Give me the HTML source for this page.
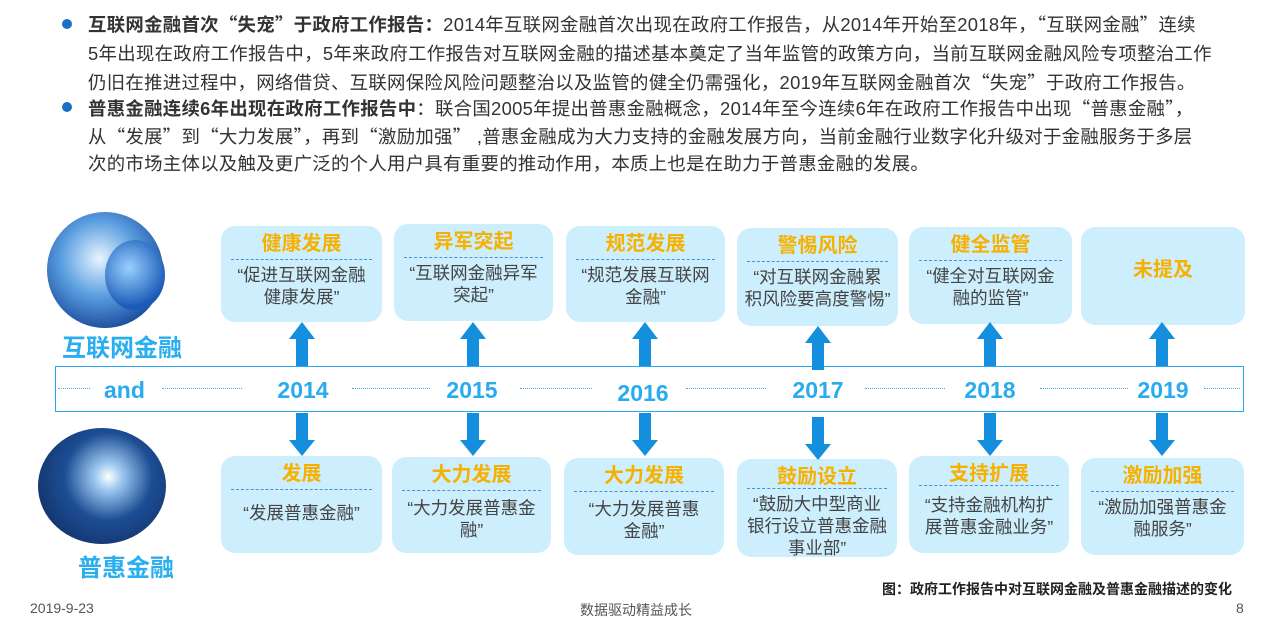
<!DOCTYPE html><html><head><meta charset="utf-8"><style>
body{margin:0;width:1280px;height:636px;position:relative;background:#fff;font-family:"Liberation Sans","Noto Sans CJK SC",sans-serif;overflow:hidden}
.l{position:absolute;left:88px;font-size:18.4px;color:#333;white-space:nowrap;line-height:28px;letter-spacing:0.3px}
.q{font-family:"Noto Sans CJK SC",sans-serif}
.dot{position:absolute;left:62px;width:10px;height:10px;border-radius:50%;background:#1a6fc4}
.box{position:absolute;background:#cdeefd;border-radius:14px;text-align:center}
.t{color:#f6b100;font-weight:bold;font-size:20px;line-height:22px;margin-top:7px}
.d{border-top:1.5px dashed #4a8fd8;margin:4px 10px 4px}
.x{color:#444;font-size:17.5px;line-height:22px;white-space:nowrap}
.yr{position:absolute;top:377px;color:#2aabef;font-weight:bold;font-size:23px;width:80px;text-align:center;margin-left:-40px}
.dl{position:absolute;top:388px;border-top:1.5px dotted #4aa8e6}
</style></head><body>
<div class="dot" style="top:19px"></div><div class="dot" style="top:102px"></div>
<div class="l" style="top:10px"><b>互联网金融首次<span class="q">“</span>失宠<span class="q">”</span>于政府工作报告：</b>2014年互联网金融首次出现在政府工作报告，从2014年开始至2018年，<span class="q">“</span>互联网金融<span class="q">”</span>连续</div>
<div class="l" style="top:40px">5年出现在政府工作报告中，5年来政府工作报告对互联网金融的描述基本奠定了当年监管的政策方向，当前互联网金融风险专项整治工作</div>
<div class="l" style="top:68px">仍旧在推进过程中，网络借贷、互联网保险风险问题整治以及监管的健全仍需强化，2019年互联网金融首次<span class="q">“</span>失宠<span class="q">”</span>于政府工作报告。</div>
<div class="l" style="top:94px"><b>普惠金融连续6年出现在政府工作报告中</b>：联合国2005年提出普惠金融概念，2014年至今连续6年在政府工作报告中出现<span class="q">“</span>普惠金融<span class="q">”</span>，</div>
<div class="l" style="top:122px">从<span class="q">“</span>发展<span class="q">”</span>到<span class="q">“</span>大力发展<span class="q">”</span>，再到<span class="q">“</span>激励加强<span class="q">”</span> ,普惠金融成为大力支持的金融发展方向，当前金融行业数字化升级对于金融服务于多层</div>
<div class="l" style="top:150px">次的市场主体以及触及更广泛的个人用户具有重要的推动作用，本质上也是在助力于普惠金融的发展。</div>

<div style="position:absolute;left:47px;top:212px;width:116px;height:116px;border-radius:50%;background:radial-gradient(circle at 45% 40%,#e8f4ff 0%,#5b9fe0 40%,#1d4fa0 75%,#e6eef8 100%)"></div>
<div style="position:absolute;left:105px;top:240px;width:60px;height:70px;border-radius:50%;background:radial-gradient(circle at 40% 40%,#9ad0ff,#1a5bb8 70%)"></div>
<div style="position:absolute;left:62px;top:328px;color:#29aef0;font-weight:bold;font-size:24px">互联网金融</div>
<div style="position:absolute;left:38px;top:428px;width:128px;height:116px;border-radius:50%;background:radial-gradient(circle at 55% 42%,#ffffff 0%,#9cc8f0 14%,#1d4d94 45%,#0c2452 100%)"></div>
<div style="position:absolute;left:78px;top:548px;color:#29aef0;font-weight:bold;font-size:24px">普惠金融</div>

<div class="box" style="left:221px;top:226px;width:161px;height:96px"><div class="t">健康发展</div><div class="d"></div><div class="x">“促进互联网金融<br>健康发展”</div></div>
<div class="box" style="left:394px;top:224px;width:159px;height:97px"><div class="t">异军突起</div><div class="d"></div><div class="x">“互联网金融异军<br>突起”</div></div>
<div class="box" style="left:566px;top:226px;width:159px;height:96px"><div class="t">规范发展</div><div class="d"></div><div class="x">“规范发展互联网<br>金融”</div></div>
<div class="box" style="left:737px;top:228px;width:161px;height:98px"><div class="t">警惕风险</div><div class="d"></div><div class="x">“对互联网金融累<br>积风险要高度警惕”</div></div>
<div class="box" style="left:909px;top:227px;width:163px;height:97px"><div class="t">健全监管</div><div class="d"></div><div class="x">“健全对互联网金<br>融的监管”</div></div>
<div class="box" style="left:1081px;top:227px;width:164px;height:98px"><div class="t" style="margin-top:32px">未提及</div></div>

<div class="box" style="left:221px;top:456px;width:161px;height:97px"><div class="t">发展</div><div class="d"></div><div class="x" style="margin-top:12px">“发展普惠金融”</div></div>
<div class="box" style="left:392px;top:457px;width:159px;height:96px"><div class="t">大力发展</div><div class="d"></div><div class="x" style="margin-top:6px">“大力发展普惠金<br>融”</div></div>
<div class="box" style="left:564px;top:458px;width:160px;height:97px"><div class="t">大力发展</div><div class="d"></div><div class="x" style="margin-top:6px">“大力发展普惠<br>金融”</div></div>
<div class="box" style="left:737px;top:459px;width:160px;height:98px"><div class="t">鼓励设立</div><div class="d" style="margin-top:0"></div><div class="x">“鼓励大中型商业<br>银行设立普惠金融<br>事业部”</div></div>
<div class="box" style="left:909px;top:456px;width:160px;height:97px"><div class="t">支持扩展</div><div class="d" style="margin-top:0"></div><div class="x" style="margin-top:8px">“支持金融机构扩<br>展普惠金融业务”</div></div>
<div class="box" style="left:1081px;top:458px;width:163px;height:97px"><div class="t">激励加强</div><div class="d"></div><div class="x" style="margin-top:4px">“激励加强普惠金<br>融服务”</div></div>

<div style="position:absolute;left:55px;top:366px;width:1187px;height:44px;border:1.5px solid #2aa8ee;background:#fff"></div>
<div class="dl" style="left:58px;width:32px"></div>
<div style="position:absolute;left:104px;top:377px;color:#2aabef;font-weight:bold;font-size:23px">and</div>
<div class="dl" style="left:162px;width:80px"></div>
<div class="dl" style="left:352px;width:78px"></div>
<div class="dl" style="left:520px;width:72px"></div>
<div class="dl" style="left:686px;width:80px"></div>
<div class="dl" style="left:865px;width:80px"></div>
<div class="dl" style="left:1040px;width:88px"></div>
<div class="dl" style="left:1204px;width:36px"></div>
<div class="yr" style="left:303px">2014</div><div class="yr" style="left:472px">2015</div><div class="yr" style="left:643px;top:380px">2016</div>
<div class="yr" style="left:818px">2017</div><div class="yr" style="left:990px">2018</div><div class="yr" style="left:1163px">2019</div>

<svg width="1280" height="636" style="position:absolute;left:0;top:0" fill="#138fdd">
<g id="u"><path d="M296 366V339H289L302 322L315 339H308V366Z"/><path d="M296 413V440H289L302 456L315 440H308V413Z"/></g>
<use href="#u" x="171"/><use href="#u" x="343"/><use href="#u" x="516" y="4"/><use href="#u" x="688"/><use href="#u" x="860"/>
</svg>

<div style="position:absolute;right:48px;top:579px;font-size:14px;font-weight:bold;color:#222">图：政府工作报告中对互联网金融及普惠金融描述的变化</div>
<div style="position:absolute;left:30px;top:600px;font-size:14px;color:#555">2019-9-23</div>
<div style="position:absolute;left:580px;top:600px;font-size:14px;color:#555">数据驱动精益成长</div>
<div style="position:absolute;left:1236px;top:600px;font-size:14px;color:#555">8</div>
</body></html>
